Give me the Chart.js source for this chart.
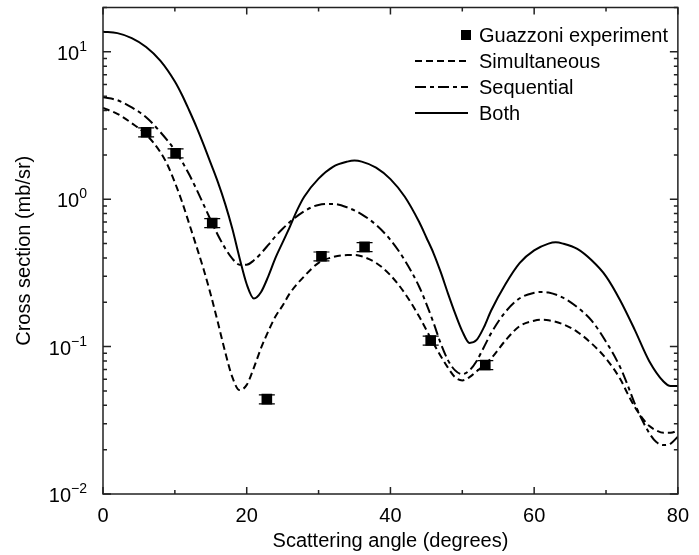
<!DOCTYPE html>
<html>
<head>
<meta charset="utf-8">
<script src="https://cdn.jsdelivr.net/npm/chart.js@4"></script>
<style>
  html, body { margin: 0; padding: 0; background: #fff; }
</style>
</head>
<body>
<canvas id="chart" width="699" height="555"></canvas>
<script>
// measured data (Guazzoni)
const expAngle = [6.0, 10.1, 15.2, 22.8, 30.4, 36.4, 45.6, 53.2]
const expValue = [2.85, 2.05, 0.69, 0.044, 0.41, 0.475, 0.11, 0.075]
const expErr = 0.07

// calculations
const angleSim = [0,2,4,6,8,9,10,11,12,13,14,15,16,17,18,19,20,21,22,23,24,25,26,28,30,32,34,35,36,38,40,42,44,46,48,49,50,51,52,54,56,58,60,61,62,64,66,68,70,72,73,74,75,76,77,78,79,80]
const simultaneous = [4.17,3.8,3.28,2.75,2.08,1.7,1.3,0.96,0.68,0.48,0.335,0.225,0.145,0.092,0.062,0.0507,0.055,0.072,0.098,0.127,0.16,0.19,0.23,0.3,0.37,0.405,0.418,0.418,0.41,0.37,0.305,0.23,0.16,0.105,0.072,0.062,0.059,0.062,0.068,0.083,0.11,0.138,0.15,0.152,0.151,0.142,0.126,0.105,0.083,0.06,0.048,0.039,0.033,0.029,0.027,0.026,0.026,0.027]

const angleSeq = [0,2,4,6,8,10,11,12,13,14,15,16,17,18,19,20,21,22,23,24,25,26,28,30,32,34,36,38,40,42,44,45,46,47,48,49,50,51,52,53,54,56,58,60,61,62,64,66,68,70,72,73,74,75,76,77,78,79,80]
const sequential = [4.92,4.7,4.2,3.6,2.85,2.15,1.8,1.47,1.17,0.92,0.72,0.57,0.465,0.395,0.36,0.36,0.385,0.43,0.49,0.56,0.63,0.7,0.83,0.915,0.93,0.88,0.79,0.67,0.53,0.385,0.255,0.195,0.145,0.105,0.081,0.069,0.065,0.069,0.08,0.099,0.123,0.172,0.213,0.232,0.235,0.233,0.215,0.185,0.15,0.108,0.072,0.055,0.041,0.032,0.026,0.0225,0.0215,0.022,0.0245]

const angleBoth = [0,2,4,6,8,10,11,12,13,14,15,16,17,18,19,20,21,22,23,24,25,26,27,28,30,32,34,35,36,38,40,42,44,45,46,47,48,49,50,51,52,53,54,56,58,60,62,63,64,66,68,70,72,74,76,78,79,80]
const both = [13.7,13.4,12.4,10.8,8.7,6.3,5.1,4.0,3.1,2.35,1.75,1.3,0.93,0.63,0.4,0.265,0.212,0.235,0.3,0.4,0.51,0.65,0.84,1.04,1.38,1.66,1.8,1.83,1.8,1.64,1.37,1.04,0.7,0.55,0.43,0.32,0.23,0.168,0.127,0.106,0.111,0.135,0.175,0.265,0.37,0.45,0.5,0.51,0.5,0.46,0.385,0.3,0.205,0.13,0.08,0.058,0.054,0.054]

const FONT = "'Liberation Sans', Arial, sans-serif"
const toPts = (xs, ys) => xs.map((x, i) => ({ x, y: ys[i] }))

const legendItems = [
  { text: 'Guazzoni experiment', type: 'square' },
  { text: 'Simultaneous', dash: [7, 4] },
  { text: 'Sequential', dash: [11, 4, 4, 4] },
  { text: 'Both', dash: [] }
]

const decorations = {
  id: 'decorations',
  afterDatasetsDraw(chart) {
    // error bar caps on the experiment points
    const { ctx, scales: { x, y } } = chart
    ctx.save()
    ctx.strokeStyle = '#000'
    ctx.lineWidth = 1.2
    expAngle.forEach((a, i) => {
      const px = x.getPixelForValue(a)
      const hi = y.getPixelForValue(expValue[i] * (1 + expErr))
      const lo = y.getPixelForValue(expValue[i] * (1 - expErr))
      ctx.beginPath()
      ctx.moveTo(px - 8, hi); ctx.lineTo(px + 8, hi)
      ctx.moveTo(px - 8, lo); ctx.lineTo(px + 8, lo)
      ctx.moveTo(px, hi); ctx.lineTo(px, lo)
      ctx.stroke()
    })
    ctx.restore()
  },
  afterDraw(chart) {
    const { ctx, chartArea: a, scales: { x, y } } = chart
    ctx.save()
    ctx.strokeStyle = '#222'
    ctx.lineWidth = 1.5
    ctx.strokeRect(a.left, a.top, a.right - a.left, a.bottom - a.top)

    ctx.beginPath()
    for (let v = 0; v <= 80; v += 10) {
      const px = x.getPixelForValue(v)
      const len = v % 20 === 0 ? 7 : 4
      ctx.moveTo(px, a.bottom); ctx.lineTo(px, a.bottom - len)
      ctx.moveTo(px, a.top); ctx.lineTo(px, a.top + len)
    }
    for (let e = -2; e <= 1; e++) {
      for (let m = 1; m <= 9; m++) {
        const v = m * Math.pow(10, e)
        if (v > y.max) break
        const py = y.getPixelForValue(v)
        const len = m === 1 ? 8 : 4
        ctx.moveTo(a.left, py); ctx.lineTo(a.left + len, py)
        ctx.moveTo(a.right, py); ctx.lineTo(a.right - len, py)
      }
    }
    ctx.stroke()

    // y tick labels 10^n
    ctx.fillStyle = '#000'
    ctx.textBaseline = 'alphabetic'
    for (let e = -2; e <= 1; e++) {
      const py = y.getPixelForValue(Math.pow(10, e))
      const exp = e < 0 ? '\u2212' + (-e) : String(e)
      ctx.font = `14px ${FONT}`
      const ew = ctx.measureText(exp).width
      ctx.textAlign = 'left'
      const right = a.left - 16
      ctx.fillText(exp, right - ew, py - 1)
      ctx.font = `20px ${FONT}`
      ctx.textAlign = 'right'
      ctx.fillText('10', right - ew, py + 8)
    }

    // legend
    const lx1 = 415, lx2 = 468, tx = 479
    legendItems.forEach((item, i) => {
      const cy = 35 + i * 26
      if (item.type === 'square') {
        ctx.fillStyle = '#000'
        ctx.fillRect(461, cy - 5, 10, 10)
      } else {
        ctx.strokeStyle = '#000'
        ctx.lineWidth = 2
        ctx.setLineDash(item.dash)
        ctx.beginPath()
        ctx.moveTo(lx1, cy); ctx.lineTo(lx2, cy)
        ctx.stroke()
        ctx.setLineDash([])
      }
      ctx.fillStyle = '#000'
      ctx.font = `20px ${FONT}`
      ctx.textAlign = 'left'
      ctx.textBaseline = 'middle'
      ctx.fillText(item.text, tx, cy + 1)
    })
    ctx.restore()
  }
}

const lineStyle = (label, data, dash) => ({
  label,
  data,
  borderColor: '#000',
  borderWidth: 2,
  borderDash: dash,
  pointRadius: 0,
  fill: false,
  cubicInterpolationMode: 'monotone'
})

new Chart(document.getElementById('chart'), {
  type: 'line',
  data: {
    datasets: [
      {
        label: 'Guazzoni experiment',
        data: toPts(expAngle, expValue),
        showLine: false,
        pointStyle: 'rect',
        pointRadius: 7.5,
        backgroundColor: '#000',
        borderColor: '#000',
        borderWidth: 0
      },
      lineStyle('Simultaneous', toPts(angleSim, simultaneous), [7, 4]),
      lineStyle('Sequential', toPts(angleSeq, sequential), [11, 4, 4, 4]),
      lineStyle('Both', toPts(angleBoth, both), [])
    ]
  },
  options: {
    responsive: false,
    animation: false,
    layout: { padding: { top: 7, right: 11, left: 0, bottom: 0 } },
    plugins: { legend: { display: false }, tooltip: { enabled: false } },
    scales: {
      x: {
        type: 'linear',
        min: 0,
        max: 80,
        grid: { display: false, drawTicks: false },
        border: { display: false },
        afterFit: s => { s.height = 61 },
        ticks: {
          stepSize: 10,
          autoSkip: false,
          maxRotation: 0,
          padding: 10,
          color: '#000',
          font: { family: FONT, size: 20 },
          callback: v => (v % 20 === 0 ? String(v) : '')
        },
        title: {
          display: true,
          text: 'Scattering angle (degrees)',
          color: '#000',
          font: { family: FONT, size: 20 },
          padding: { top: 0, bottom: 2 }
        }
      },
      y: {
        type: 'logarithmic',
        min: 0.01,
        max: 20,
        grid: { display: false, drawTicks: false },
        border: { display: false },
        afterFit: s => { s.width = 103 },
        ticks: { display: false },
        title: {
          display: true,
          text: 'Cross section (mb/sr)',
          color: '#000',
          font: { family: FONT, size: 20 },
          padding: { top: 12, bottom: 0 }
        }
      }
    }
  },
  plugins: [decorations]
})
</script>
</body>
</html>
